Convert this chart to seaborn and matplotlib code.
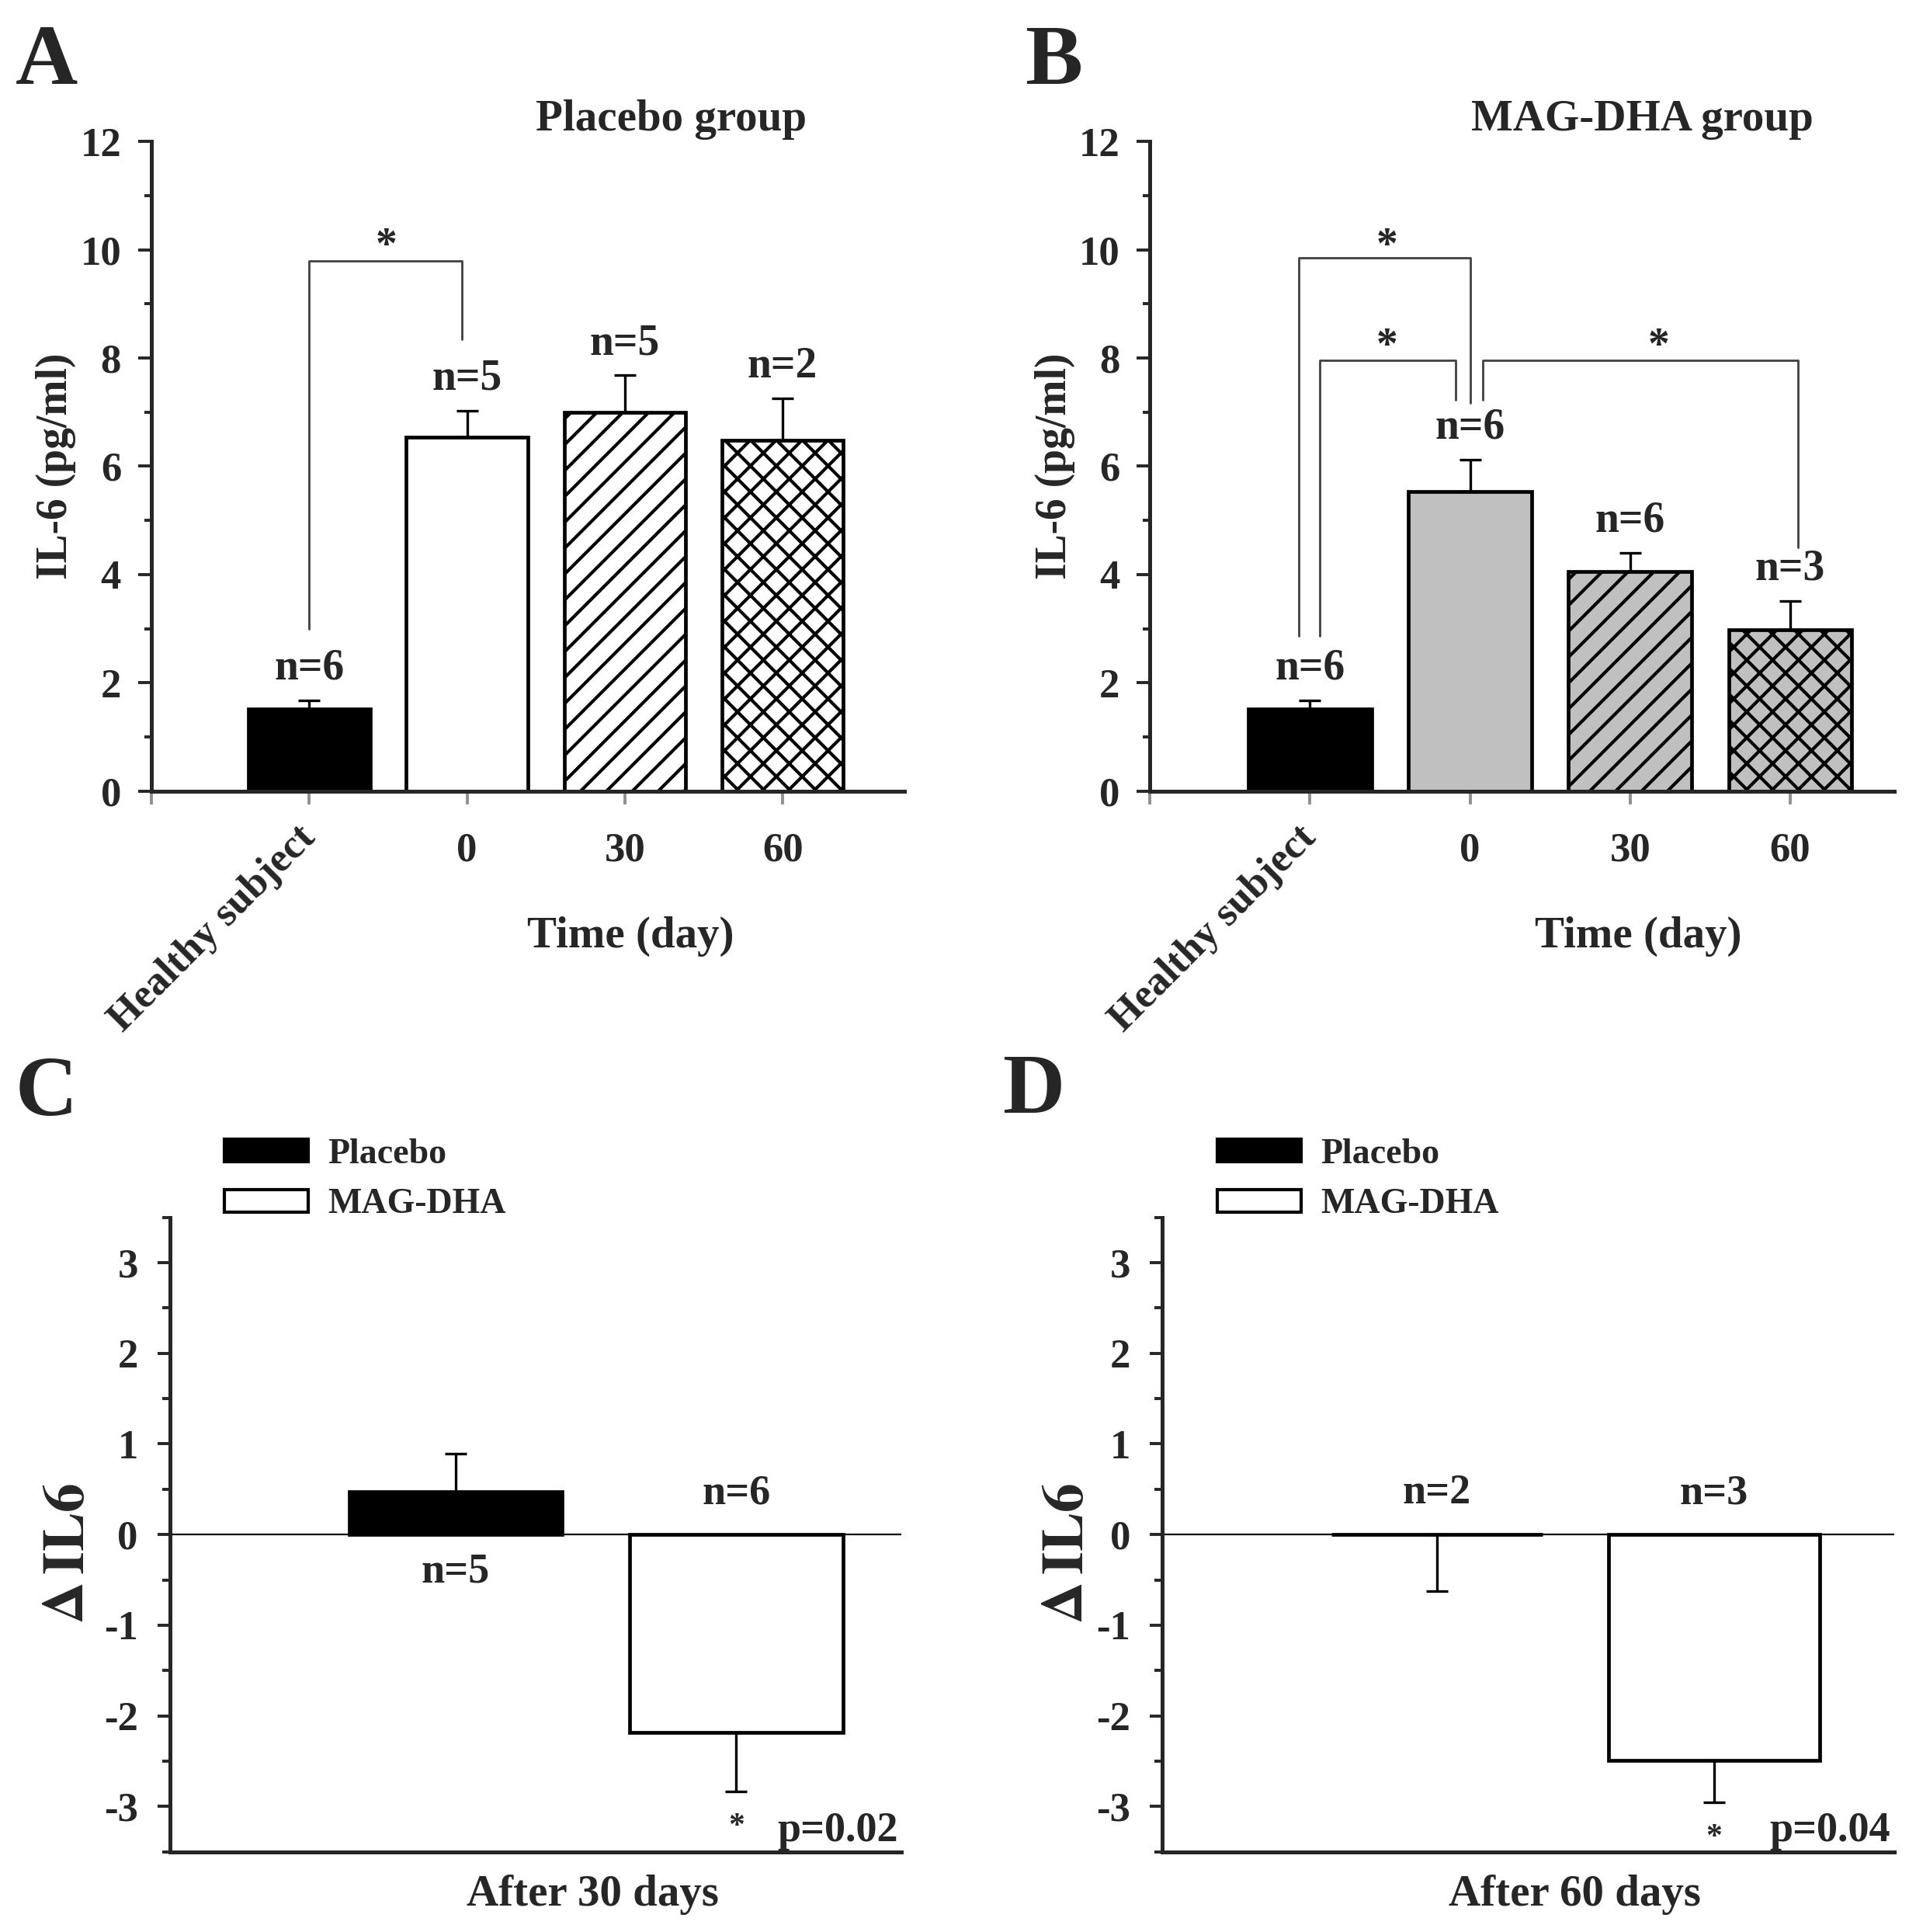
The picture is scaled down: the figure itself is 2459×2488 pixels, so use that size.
import numpy as np
import matplotlib
matplotlib.use("Agg")
import matplotlib.pyplot as plt
import seaborn as sns
from matplotlib.patches import Patch
from matplotlib.ticker import MultipleLocator

# ------------------------------
# Data
# ------------------------------

groups = ["Healthy subject", "0", "30", "60"]

placebo_mean = [1.52, 6.54, 6.99, 6.48]
placebo_sem = [0.15, 0.49, 0.69, 0.77]
placebo_n = ["n=6", "n=5", "n=5", "n=2"]

dha_mean = [1.51, 5.53, 4.05, 2.98]
dha_sem = [0.16, 0.59, 0.35, 0.53]
dha_n = ["n=6", "n=6", "n=6", "n=3"]

delta_groups = ["Placebo", "MAG-DHA"]

delta30_mean = [0.47, -2.18]
delta30_sem = [0.42, 0.65]
delta30_n = ["n=5", "n=6"]

delta60_mean = [0.0, -2.49]
delta60_sem = [0.62, 0.46]
delta60_n = ["n=2", "n=3"]

# significance brackets (x in category units, y in pg/ml)
a_brackets = [([0, 0, 0.97, 0.97], [3.0, 9.8, 9.8, 8.35])]
a_stars = [(0.49, 10.3)]
b_brackets = [([-0.07, -0.07, 1.0, 1.0], [2.86, 9.85, 9.85, 7.17]),
              ([0.06, 0.06, 0.91, 0.91], [2.86, 7.96, 7.96, 7.23]),
              ([1.08, 1.08, 3.05, 3.05], [7.23, 7.96, 7.96, 4.5])]
b_stars = [(0.48, 10.3), (0.48, 8.45), (2.18, 8.45)]

# ------------------------------
# Style
# ------------------------------

sns.set_style("ticks")
plt.rcParams["font.family"] = ["Liberation Serif", "DejaVu Serif"]
plt.rcParams["font.weight"] = "bold"
plt.rcParams["axes.labelweight"] = "bold"
plt.rcParams["axes.unicode_minus"] = False
plt.rcParams["mathtext.fontset"] = "stix"
plt.rcParams["hatch.linewidth"] = 1.5
plt.rcParams["axes.linewidth"] = 1.8

fig = plt.figure(figsize=(2459 / 200, 2488 / 200), dpi=200)

ax_a = fig.add_axes([0.0793, 0.5906, 0.3943, 0.3361])
ax_b = fig.add_axes([0.6024, 0.5906, 0.3899, 0.3361])
ax_c = fig.add_axes([0.0889, 0.0415, 0.3834, 0.3284])
ax_d = fig.add_axes([0.6089, 0.0415, 0.3834, 0.3284])


def time_panel(ax, means, sems, ns, colors, hatches, brackets, stars,
               title, title_x, xlabel_x, xmax):
    sns.barplot(x=groups, y=means, hue=groups, palette=colors, legend=False,
                width=0.77, edgecolor="black", linewidth=1.7,
                errorbar=None, ax=ax)
    for bar, h in zip(ax.patches, hatches):
        bar.set_hatch(h)
    pos = np.arange(len(groups))
    ax.errorbar(pos, means, yerr=[np.zeros(len(means)), sems], fmt="none",
                ecolor="black", elinewidth=1.2, capsize=5, capthick=1.2,
                zorder=3)
    for x, m, s, n in zip(pos, means, sems, ns):
        ax.text(x, m + s + 0.22, n, ha="center", va="bottom", fontsize=20)

    for xs, ys in brackets:
        ax.plot(xs, ys, color="#404040", lw=1.0, clip_on=False)
    for x, y in stars:
        ax.text(x, y - 0.25, "*", ha="center", va="center", fontsize=20)

    ax.set_xlim(-1.0, xmax)
    ax.set_ylim(0, 12)
    ax.yaxis.set_major_locator(MultipleLocator(2))
    ax.yaxis.set_minor_locator(MultipleLocator(1))
    ax.set_xticks([-1, 0, 1, 2, 3])
    ax.set_xticklabels(["", groups[0], groups[1], groups[2], groups[3]])
    lab = ax.get_xticklabels()[1]
    lab.set_rotation(45)
    lab.set_ha("right")
    lab.set_va("center")
    lab.set_rotation_mode("anchor")
    lab.set_fontsize(21)
    ax.tick_params(axis="x", length=6, width=1.4, color="#909090", pad=13,
                   labelsize=19)
    ax.tick_params(axis="y", which="major", length=6, width=1.4, pad=8,
                   labelsize=19)
    ax.tick_params(axis="y", which="minor", length=3.2, width=1.4)
    sns.despine(ax=ax)

    ax.set_ylabel("IL-6 (pg/ml)", fontsize=20)
    ax.yaxis.set_label_coords(-0.10, 0.5)
    ax.set_xlabel("Time (day)", fontsize=20.5)
    ax.xaxis.label.set_va("center")
    ax.xaxis.set_label_coords(xlabel_x, -0.224)
    ax.text(title_x, 1.034, title, transform=ax.transAxes, ha="center",
            va="center", fontsize=20.5)


def delta_panel(ax, means, sems, ns, xlim, p_text, xlabel, xlabel_x,
                ylabel_x):
    sns.barplot(x=delta_groups, y=means, hue=delta_groups,
                palette=["black", "white"], legend=False, width=0.76,
                edgecolor="black", linewidth=1.7, errorbar=None, ax=ax)
    ax.axhline(0, color="black", lw=0.8, zorder=0.5)
    pos = np.arange(len(delta_groups))
    down = [m <= 0 for m in means]
    lower = [s if d else 0 for s, d in zip(sems, down)]
    upper = [0 if d else s for s, d in zip(sems, down)]
    ax.errorbar(pos, means, yerr=[lower, upper], fmt="none", ecolor="black",
                elinewidth=1.2, capsize=5, capthick=1.2, zorder=3)
    for x, d, n in zip(pos, down, ns):
        if d:
            ax.text(x, 0.24, n, ha="center", va="bottom", fontsize=19.5)
        else:
            ax.text(x, -0.2, n, ha="center", va="top", fontsize=19.5)
    # star under the MAG-DHA error bar
    ax.text(pos[1], means[1] - sems[1] - 0.4, "*", ha="center", va="center",
            fontsize=15)
    ax.text(0.995, -3.38, p_text, transform=ax.get_yaxis_transform(),
            ha="right", va="baseline", fontsize=19.5)

    ax.set_xlim(*xlim)
    ax.set_ylim(-3.5, 3.5)
    ax.set_xticks([])
    ax.yaxis.set_major_locator(MultipleLocator(1))
    ax.yaxis.set_minor_locator(MultipleLocator(0.5))
    ax.tick_params(axis="y", which="major", length=5.7, width=1.4, pad=9,
                   labelsize=19)
    ax.tick_params(axis="y", which="minor", length=3.5, width=1.4)
    sns.despine(ax=ax)

    ax.set_ylabel(r"$\Delta\,\mathbf{IL6}$", fontsize=27)
    ax.yaxis.set_label_coords(ylabel_x, 0.47)
    ax.set_xlabel(xlabel, fontsize=20.5)
    ax.xaxis.label.set_va("center")
    ax.xaxis.set_label_coords(xlabel_x, -0.068)

    handles = [Patch(facecolor="black", edgecolor="black", lw=1.5),
               Patch(facecolor="white", edgecolor="black", lw=1.5)]
    ax.legend(handles, delta_groups, loc="upper left",
              bbox_to_anchor=(0.075, 1.125), frameon=False, fontsize=16.5,
              handlelength=2.35, handleheight=0.6, handletextpad=0.55,
              labelspacing=0.5, borderaxespad=0, borderpad=0)


time_panel(ax_a, placebo_mean, placebo_sem, placebo_n,
           ["black", "white", "white", "white"], ["", "", "//", "xx"],
           a_brackets, a_stars, "Placebo group", 0.691, 0.637, 3.77)
time_panel(ax_b, dha_mean, dha_sem, dha_n,
           ["black", "#c0c0c0", "#c0c0c0", "#c0c0c0"], ["", "", "//", "xx"],
           b_brackets, b_stars, "MAG-DHA group", 0.661, 0.656, 3.65)

delta_panel(ax_c, delta30_mean, delta30_sem, delta30_n, (-1.02, 1.59),
            "p=0.02", "After 30 days", 0.578, -0.10)
delta_panel(ax_d, delta60_mean, delta60_sem, delta60_n, (-0.99, 1.65),
            "p=0.04", "After 60 days", 0.563, -0.092)

# panel letters
for letter, x, y in [("A", 0.008, 0.9566), ("B", 0.537, 0.9566),
                     ("C", 0.008, 0.4228), ("D", 0.525, 0.4241)]:
    fig.text(x, y, letter, ha="left", va="baseline", fontsize=40,
             fontweight="bold")

fig.savefig("out.png", dpi=200, facecolor="white")
